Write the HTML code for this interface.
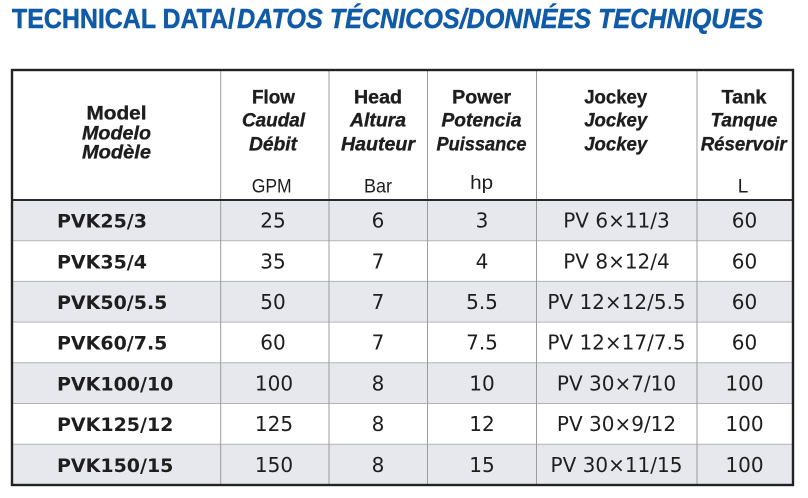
<!DOCTYPE html>
<html>
<head>
<meta charset="utf-8">
<style>
html,body{margin:0;padding:0;background:#fff;}
svg{display:block;}
.t{font-family:"Liberation Sans",sans-serif;font-weight:bold;font-size:28px;fill:#0f5ba7;stroke:#0f5ba7;stroke-width:0.5px;}
.h{font-family:"Liberation Sans",sans-serif;font-weight:bold;font-size:19px;fill:#1e1e1e;stroke:#1e1e1e;stroke-width:0.35px;text-anchor:middle;}
.hi{font-style:italic;}
.u{font-family:"Liberation Sans",sans-serif;font-size:19px;fill:#1e1e1e;text-anchor:middle;}
.m{font-family:"DejaVu Sans","Liberation Sans",sans-serif;font-weight:bold;font-size:19px;fill:#1e1e1e;}
.d{font-family:"DejaVu Sans","Liberation Sans",sans-serif;font-size:20px;fill:#1e1e1e;text-anchor:middle;}
</style>
</head>
<body>
<svg width="808" height="498" viewBox="0 0 808 498" xmlns="http://www.w3.org/2000/svg">
<rect width="808" height="498" fill="#fff"/>
<!-- Title -->
<text class="t" x="12" y="28" textLength="223" lengthAdjust="spacingAndGlyphs">TECHNICAL DATA/</text>
<text class="t" x="237" y="28" font-style="italic" textLength="526" lengthAdjust="spacingAndGlyphs">DATOS TÉCNICOS/DONNÉES TECHNIQUES</text>

<!-- Row fills -->
<rect x="12" y="200" width="781" height="40.7" fill="#e6e8ee"/>
<rect x="12" y="281.4" width="781" height="40.7" fill="#e6e8ee"/>
<rect x="12" y="362.8" width="781" height="40.7" fill="#e6e8ee"/>
<rect x="12" y="444.2" width="781" height="40.7" fill="#e6e8ee"/>

<!-- Row lines -->
<g stroke="#b4b4b4" stroke-width="1">
<line x1="12" y1="240.7" x2="793" y2="240.7"/>
<line x1="12" y1="281.4" x2="793" y2="281.4"/>
<line x1="12" y1="322.1" x2="793" y2="322.1"/>
<line x1="12" y1="362.8" x2="793" y2="362.8"/>
<line x1="12" y1="403.5" x2="793" y2="403.5"/>
<line x1="12" y1="444.2" x2="793" y2="444.2"/>
</g>
<!-- Column dividers -->
<g stroke="#9c9c9c" stroke-width="1">
<line x1="220.7" y1="70" x2="220.7" y2="485"/>
<line x1="329" y1="70" x2="329" y2="485"/>
<line x1="427.5" y1="70" x2="427.5" y2="485"/>
<line x1="536.5" y1="70" x2="536.5" y2="485"/>
<line x1="697" y1="70" x2="697" y2="485"/>
</g>
<!-- Header bottom line -->
<line x1="12" y1="200" x2="793" y2="200" stroke="#2a2a2a" stroke-width="2"/>
<!-- Outer border -->
<rect x="12" y="70" width="781" height="415" fill="none" stroke="#222" stroke-width="2.4"/>

<!-- Header text -->
<text class="h" x="116.5" y="119.3" textLength="60" lengthAdjust="spacingAndGlyphs">Model</text>
<text class="h hi" x="116.5" y="139.3" textLength="69" lengthAdjust="spacingAndGlyphs">Modelo</text>
<text class="h hi" x="116.5" y="158.7" textLength="69" lengthAdjust="spacingAndGlyphs">Modèle</text>

<text class="h" x="273.5" y="103.3" textLength="43" lengthAdjust="spacingAndGlyphs">Flow</text>
<text class="h hi" x="273.5" y="126.7" textLength="63" lengthAdjust="spacingAndGlyphs">Caudal</text>
<text class="h hi" x="273" y="150.3" textLength="48" lengthAdjust="spacingAndGlyphs">Débit</text>
<text class="u" x="271.7" y="192.7" textLength="40" lengthAdjust="spacingAndGlyphs">GPM</text>

<text class="h" x="378" y="103.3" textLength="48" lengthAdjust="spacingAndGlyphs">Head</text>
<text class="h hi" x="378" y="126.7" textLength="56" lengthAdjust="spacingAndGlyphs">Altura</text>
<text class="h hi" x="378" y="150.3" textLength="74" lengthAdjust="spacingAndGlyphs">Hauteur</text>
<text class="u" x="378" y="192.7" textLength="28" lengthAdjust="spacingAndGlyphs">Bar</text>

<text class="h" x="481.7" y="103.3" textLength="59" lengthAdjust="spacingAndGlyphs">Power</text>
<text class="h hi" x="481.5" y="126.7" textLength="80" lengthAdjust="spacingAndGlyphs">Potencia</text>
<text class="h hi" x="481.5" y="150.3" textLength="90" lengthAdjust="spacingAndGlyphs">Puissance</text>
<text class="u" x="481.7" y="189" textLength="23" lengthAdjust="spacingAndGlyphs">hp</text>

<text class="h" x="615.7" y="103.3" textLength="63" lengthAdjust="spacingAndGlyphs">Jockey</text>
<text class="h hi" x="615.7" y="126.7" textLength="63" lengthAdjust="spacingAndGlyphs">Jockey</text>
<text class="h hi" x="615.7" y="150.3" textLength="63" lengthAdjust="spacingAndGlyphs">Jockey</text>

<text class="h" x="744" y="103.3" textLength="45" lengthAdjust="spacingAndGlyphs">Tank</text>
<text class="h hi" x="744" y="126.7" textLength="67" lengthAdjust="spacingAndGlyphs">Tanque</text>
<text class="h hi" x="743.7" y="150.3" textLength="86" lengthAdjust="spacingAndGlyphs">Réservoir</text>
<text class="u" x="743" y="192.7">L</text>

<!-- Data rows -->
<g>
<text class="m" x="57" y="227.6">PVK25/3</text>
<text class="d" x="273" y="227.6">25</text>
<text class="d" x="378" y="227.6">6</text>
<text class="d" x="482" y="227.6">3</text>
<text class="d" x="616.5" y="227.6">PV 6×11/3</text>
<text class="d" x="744.5" y="227.6">60</text>

<text class="m" x="57" y="268.3">PVK35/4</text>
<text class="d" x="273" y="268.3">35</text>
<text class="d" x="378" y="268.3">7</text>
<text class="d" x="482" y="268.3">4</text>
<text class="d" x="616.5" y="268.3">PV 8×12/4</text>
<text class="d" x="744.5" y="268.3">60</text>

<text class="m" x="57" y="309">PVK50/5.5</text>
<text class="d" x="273" y="309">50</text>
<text class="d" x="378" y="309">7</text>
<text class="d" x="482" y="309">5.5</text>
<text class="d" x="616.5" y="309">PV 12×12/5.5</text>
<text class="d" x="744.5" y="309">60</text>

<text class="m" x="57" y="349.7">PVK60/7.5</text>
<text class="d" x="273" y="349.7">60</text>
<text class="d" x="378" y="349.7">7</text>
<text class="d" x="482" y="349.7">7.5</text>
<text class="d" x="616.5" y="349.7">PV 12×17/7.5</text>
<text class="d" x="744.5" y="349.7">60</text>

<text class="m" x="57" y="390.4">PVK100/10</text>
<text class="d" x="274" y="390.4">100</text>
<text class="d" x="378" y="390.4">8</text>
<text class="d" x="482" y="390.4">10</text>
<text class="d" x="616.5" y="390.4">PV 30×7/10</text>
<text class="d" x="744.5" y="390.4">100</text>

<text class="m" x="57" y="431.1">PVK125/12</text>
<text class="d" x="274" y="431.1">125</text>
<text class="d" x="378" y="431.1">8</text>
<text class="d" x="482" y="431.1">12</text>
<text class="d" x="616.5" y="431.1">PV 30×9/12</text>
<text class="d" x="744.5" y="431.1">100</text>

<text class="m" x="57" y="471.8">PVK150/15</text>
<text class="d" x="274" y="471.8">150</text>
<text class="d" x="378" y="471.8">8</text>
<text class="d" x="482" y="471.8">15</text>
<text class="d" x="616.5" y="471.8">PV 30×11/15</text>
<text class="d" x="744.5" y="471.8">100</text>
</g>
</svg>
</body>
</html>
